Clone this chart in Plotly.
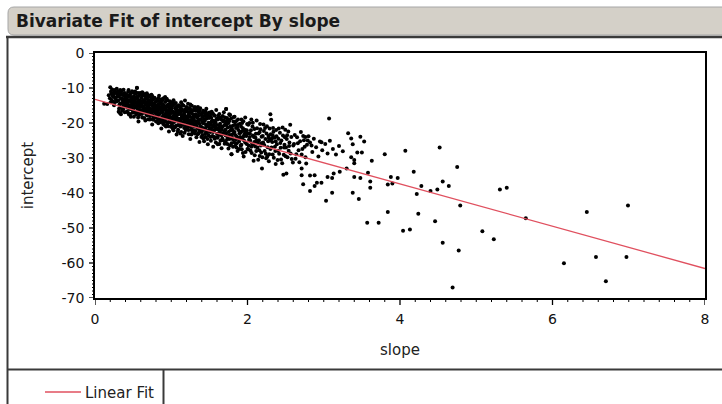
import plotly.graph_objects as go

# ---- data ----
cloud = [
 [0.12,-14.5],[0.16,-14.6],[0.18,-12.1],[0.2,-9.8],[0.21,-11.0],[0.22,-13.4],[0.23,-12.3],[0.24,-11.9],[0.25,-14.9],[0.26,-10.6],[0.27,-12.7],[0.28,-11.5],[0.29,-13.8],[0.3,-10.9],
 [0.31,-12.4],[0.32,-14.8],[0.32,-11.3],[0.33,-17.2],[0.34,-13.1],[0.34,-15.6],[0.35,-10.8],[0.35,-12.9],[0.36,-14.2],[0.36,-11.9],[0.37,-16.1],[0.37,-13.6],[0.38,-12.2],[0.38,-15.0],[0.39,-11.4],[0.39,-13.9],[0.4,-14.6],[0.4,-12.6],
 [0.41,-11.8],[0.41,-15.3],[0.42,-13.2],[0.42,-16.7],[0.43,-12.5],[0.43,-14.4],[0.44,-10.6],[0.44,-13.8],[0.45,-15.9],[0.45,-12.1],[0.46,-14.9],[0.46,-17.4],[0.47,-13.4],[0.47,-11.5],[0.48,-15.4],[0.48,-14.1],[0.49,-12.8],[0.49,-16.3],[0.5,-13.6],[0.5,-11.2],[0.5,-15.0],[0.47,-18.2],
 [0.51,-12.3],[0.51,-14.7],[0.52,-16.8],[0.52,-13.1],[0.53,-11.6],[0.53,-15.5],[0.54,-14.0],[0.54,-17.6],[0.55,-10.0],[0.55,-12.9],[0.56,-15.9],[0.56,-14.4],[0.57,-19.6],[0.57,-13.5],[0.58,-16.3],[0.58,-12.0],[0.59,-14.9],[0.59,-17.1],[0.6,-13.8],[0.6,-15.4],[0.6,-11.4],[0.53,-14.2],[0.57,-15.1],[0.56,-12.5],
 [0.61,-12.8],[0.61,-16.5],[0.62,-14.3],[0.62,-18.4],[0.63,-11.5],[0.63,-15.2],[0.64,-13.6],[0.64,-17.0],[0.65,-15.8],[0.65,-12.2],[0.66,-14.7],[0.66,-19.3],[0.67,-16.2],[0.67,-13.0],[0.68,-11.5],[0.68,-15.5],[0.68,-17.8],[0.69,-14.1],[0.69,-12.6],[0.7,-16.7],[0.7,-15.0],[0.7,-13.4],[0.64,-15.9],[0.66,-16.9],[0.62,-13.9],[0.67,-14.6],
 [0.71,-13.9],[0.71,-17.4],[0.72,-12.4],[0.72,-15.8],[0.73,-18.9],[0.73,-14.6],[0.74,-16.3],[0.74,-11.9],[0.75,-15.1],[0.75,-20.4],[0.76,-13.3],[0.76,-17.9],[0.77,-16.0],[0.77,-14.4],[0.78,-12.8],[0.78,-18.5],[0.79,-15.6],[0.79,-16.9],[0.8,-13.8],[0.8,-17.2],[0.72,-16.6],[0.74,-14.0],[0.76,-15.4],[0.78,-16.5],[0.8,-19.6],[0.75,-12.3],
 [0.81,-15.1],[0.81,-18.4],[0.82,-13.3],[0.82,-16.6],[0.83,-20.1],[0.83,-14.7],[0.84,-17.6],[0.84,-12.2],[0.85,-16.0],[0.85,-19.0],[0.86,-14.2],[0.86,-17.1],[0.87,-15.5],[0.87,-21.6],[0.88,-13.6],[0.88,-18.3],[0.89,-16.4],[0.89,-14.9],[0.9,-17.8],[0.9,-12.9],[0.82,-17.9],[0.84,-15.3],[0.86,-19.8],[0.88,-16.9],[0.9,-15.6],[0.85,-13.9],
 [0.91,-16.2],[0.91,-19.5],[0.92,-14.0],[0.92,-17.5],[0.93,-21.0],[0.93,-15.3],[0.94,-18.6],[0.94,-13.1],[0.95,-16.8],[0.95,-20.2],[0.96,-14.7],[0.96,-18.0],[0.97,-16.0],[0.97,-22.4],[0.98,-13.8],[0.98,-19.1],[0.99,-17.2],[0.99,-15.6],[1.0,-18.4],[1.0,-14.4],[0.92,-12.6],[0.94,-16.5],[0.96,-20.9],[0.98,-17.7],[1.0,-16.3],[0.95,-15.0],
 [1.01,-16.9],[1.01,-20.3],[1.02,-15.0],[1.02,-18.6],[1.03,-22.1],[1.03,-13.5],[1.04,-17.3],[1.04,-19.7],[1.05,-15.8],[1.05,-21.2],[1.06,-18.0],[1.06,-14.3],[1.07,-16.4],[1.07,-23.3],[1.08,-19.2],[1.08,-17.6],[1.09,-15.3],[1.09,-20.6],[1.1,-18.8],[1.1,-14.9],[1.03,-17.9],[1.05,-19.0],[1.07,-16.0],[1.09,-21.9],
 [1.11,-17.4],[1.11,-20.8],[1.12,-15.5],[1.12,-19.2],[1.13,-22.6],[1.13,-14.1],[1.14,-18.0],[1.14,-20.1],[1.15,-16.5],[1.15,-23.7],[1.16,-18.7],[1.16,-15.0],[1.17,-17.1],[1.17,-21.4],[1.18,-19.6],[1.18,-13.6],[1.19,-16.0],[1.19,-22.0],[1.2,-18.3],[1.2,-20.5],[1.12,-17.0],[1.14,-16.1],[1.16,-19.9],[1.18,-17.9],
 [1.21,-16.8],[1.21,-21.3],[1.22,-18.9],[1.22,-14.5],[1.23,-23.2],[1.23,-17.5],[1.24,-20.4],[1.24,-15.7],[1.25,-19.3],[1.25,-24.6],[1.26,-17.0],[1.26,-21.9],[1.27,-18.4],[1.27,-15.1],[1.28,-20.0],[1.28,-22.7],[1.29,-16.4],[1.29,-19.0],[1.3,-17.9],[1.3,-21.0],[1.24,-18.1],[1.27,-19.8],
 [1.31,-15.5],[1.31,-19.4],[1.32,-22.3],[1.32,-17.6],[1.33,-20.8],[1.33,-24.1],[1.34,-18.5],[1.34,-16.2],[1.35,-21.6],[1.35,-19.8],[1.36,-23.0],[1.36,-17.0],[1.37,-20.3],[1.37,-25.4],[1.38,-18.9],[1.38,-15.8],[1.39,-22.0],[1.39,-19.1],[1.4,-21.2],[1.4,-17.4],
 [1.41,-18.3],[1.41,-23.5],[1.42,-20.1],[1.42,-16.5],[1.43,-22.0],[1.43,-25.2],[1.44,-19.4],[1.44,-17.2],[1.45,-21.4],[1.45,-24.0],[1.46,-18.8],[1.46,-15.9],[1.47,-20.7],[1.47,-22.8],[1.48,-17.8],[1.48,-26.1],[1.49,-19.9],[1.5,-21.9],
 [1.51,-18.0],[1.51,-22.6],[1.52,-20.4],[1.52,-25.1],[1.53,-16.8],[1.53,-21.5],[1.54,-23.7],[1.54,-19.3],[1.55,-26.8],[1.55,-20.9],[1.56,-17.7],[1.56,-22.2],[1.57,-24.5],[1.58,-19.8],[1.58,-21.0],[1.59,-16.3],[1.6,-23.1],
 [1.61,-19.0],[1.61,-24.2],[1.62,-21.6],[1.63,-17.4],[1.63,-26.0],[1.64,-22.7],[1.64,-20.2],[1.65,-18.4],[1.66,-23.5],[1.66,-27.2],[1.67,-21.1],[1.68,-19.6],[1.68,-24.9],[1.69,-16.9],[1.7,-22.4],
 [1.71,-20.3],[1.71,-25.4],[1.72,-16.0],[1.72,-22.9],[1.73,-18.6],[1.74,-24.0],[1.74,-21.3],[1.75,-27.3],[1.76,-19.4],[1.76,-23.4],[1.77,-17.7],[1.78,-22.1],[1.79,-28.9],[1.79,-25.8],
 [1.81,-20.8],[1.81,-24.7],[1.82,-18.3],[1.83,-22.6],[1.84,-26.5],[1.85,-21.4],[1.85,-19.5],[1.86,-23.9],[1.87,-28.0],[1.88,-22.0],[1.89,-25.3],[1.9,-20.2],
 [1.91,-22.8],[1.92,-19.0],[1.92,-26.2],[1.93,-24.4],[1.94,-21.5],[1.95,-29.6],[1.96,-23.3],[1.97,-18.4],[1.97,-25.6],[1.99,-22.1],[2.0,-27.4],
 [2.01,-20.5],[2.02,-24.8],[2.03,-22.9],[2.04,-27.9],[2.05,-19.0],[2.06,-25.9],[2.07,-23.6],[2.08,-30.8],[2.09,-21.7],[2.1,-26.7],
 [2.11,-23.1],[2.12,-19.3],[2.13,-27.0],[2.15,-24.9],[2.16,-29.4],[2.17,-21.8],[2.18,-25.8],[2.19,-33.0],[2.2,-23.7],
 [2.21,-20.4],[2.22,-26.3],[2.24,-28.8],[2.25,-23.0],[2.27,-25.2],[2.28,-30.9],[2.29,-21.6],[2.3,-17.5],[2.3,-27.4],
 [2.31,-19.1],[2.32,-24.4],[2.33,-29.0],[2.34,-22.5],[2.36,-26.8],[2.37,-31.7],[2.38,-23.8],[2.4,-27.9],
 [2.41,-21.6],[2.43,-25.7],[2.44,-30.4],[2.46,-21.3],[2.47,-34.8],[2.48,-27.0],[2.49,-24.1],[2.5,-29.5],
 [2.51,-34.4],[2.52,-23.5],[2.54,-27.9],[2.55,-25.6],[2.56,-20.5],[2.58,-30.3],[2.6,-26.4],
 [2.62,-23.4],[2.64,-28.9],[2.66,-25.8],[2.68,-31.2],[2.7,-22.6],[2.72,-27.4],[2.74,-24.9],[2.76,-29.8],[2.78,-26.2],[2.8,-23.8],
 [2.82,-25.6],[2.85,-28.3],[2.87,-24.5],[2.9,-26.9],[2.93,-29.6],[2.95,-25.3],[2.98,-27.8],[3.02,-26.0],[3.05,-28.7],[3.08,-25.1],[3.12,-27.4],[3.16,-29.0],[3.2,-26.6],[3.25,-28.1],[2.76,-24.0],[2.84,-26.4],
]

cloud_fill = [
 [0.195,-12.9],[0.205,-14.1],[0.215,-11.6],[0.225,-10.4],[0.235,-13.9],[0.245,-12.6],[0.255,-11.2],[0.265,-14.0],[0.275,-13.3],[0.285,-10.2],[0.295,-12.0],
 [0.305,-13.6],[0.315,-15.9],[0.325,-12.0],[0.335,-14.4],[0.345,-11.6],[0.355,-16.5],[0.365,-13.3],[0.375,-10.5],[0.385,-14.7],[0.395,-12.9],[0.31,-16.8],[0.33,-10.6],[0.37,-15.3],[0.39,-16.9],
 [0.405,-14.0],[0.415,-12.4],[0.425,-15.6],[0.435,-11.1],[0.445,-17.6],[0.455,-13.5],[0.465,-16.0],[0.475,-12.7],[0.485,-10.9],[0.495,-17.1],[0.42,-14.9],[0.44,-15.2],[0.46,-12.3],[0.48,-13.0],[0.43,-17.0],[0.49,-14.4],
 [0.505,-16.2],[0.515,-13.6],[0.525,-11.0],[0.535,-17.0],[0.545,-12.6],[0.555,-15.0],[0.565,-18.4],[0.575,-11.4],[0.585,-14.1],[0.595,-16.4],[0.51,-18.2],[0.53,-13.0],[0.55,-16.9],[0.57,-12.3],[0.59,-13.5],[0.52,-15.2],[0.54,-11.3],[0.58,-17.7],
 [0.605,-14.4],[0.615,-17.4],[0.625,-12.0],[0.635,-16.2],[0.645,-18.6],[0.655,-13.2],[0.665,-11.8],[0.675,-17.5],[0.685,-14.0],[0.695,-18.9],[0.61,-15.3],[0.63,-13.7],[0.65,-16.7],[0.67,-12.4],[0.69,-16.0],[0.62,-11.2],[0.66,-14.2],[0.7,-12.1],
 [0.705,-14.9],[0.715,-19.0],[0.725,-13.5],[0.735,-17.1],[0.745,-12.9],[0.755,-16.7],[0.765,-19.1],[0.775,-13.0],[0.785,-15.0],[0.795,-18.1],[0.71,-15.9],[0.73,-12.3],[0.75,-17.6],[0.77,-18.4],[0.79,-14.1],[0.72,-18.0],[0.76,-14.7],[0.8,-15.5],
 [0.805,-16.3],[0.815,-13.7],[0.825,-19.2],[0.835,-15.8],[0.845,-18.7],[0.855,-14.5],[0.865,-16.3],[0.875,-19.4],[0.885,-14.6],[0.895,-20.3],[0.81,-17.0],[0.83,-12.9],[0.85,-17.3],[0.87,-13.2],[0.89,-18.9],[0.82,-15.6],[0.86,-15.6],[0.9,-19.6],
 [0.905,-15.0],[0.915,-18.3],[0.925,-16.1],[0.935,-13.6],[0.945,-19.8],[0.955,-17.9],[0.965,-15.4],[0.975,-19.7],[0.985,-14.8],[0.995,-21.1],[0.91,-20.6],[0.93,-17.2],[0.95,-13.5],[0.97,-18.8],[0.99,-16.6],[0.92,-19.0],[0.96,-16.9],[1.0,-20.0],
 [1.005,-15.6],[1.015,-19.0],[1.025,-16.8],[1.035,-21.0],[1.045,-14.6],[1.055,-18.5],[1.065,-20.8],[1.075,-15.2],[1.085,-22.5],[1.095,-17.0],[1.01,-14.1],[1.03,-19.6],[1.05,-16.9],[1.07,-18.3],[1.09,-19.4],[1.02,-21.6],[1.06,-15.6],[1.1,-16.5],
 [1.105,-19.5],[1.115,-16.3],[1.125,-21.0],[1.135,-18.5],[1.145,-14.8],[1.155,-20.5],[1.165,-17.6],[1.175,-22.8],[1.185,-16.6],[1.195,-19.0],[1.11,-15.2],[1.13,-20.0],[1.15,-17.8],[1.17,-19.2],[1.19,-21.1],[1.12,-23.0],[1.16,-16.4],[1.2,-15.4],
 [1.205,-19.4],[1.215,-15.8],[1.225,-22.0],[1.235,-17.0],[1.245,-21.0],[1.255,-16.2],[1.265,-23.3],[1.275,-20.6],[1.285,-17.5],[1.295,-22.2],[1.21,-18.2],[1.23,-19.9],[1.25,-14.7],[1.27,-21.7],[1.29,-20.3],[1.22,-16.0],[1.26,-19.2],[1.3,-15.9],
 [1.305,-18.3],[1.315,-21.1],[1.325,-16.5],[1.335,-19.6],[1.345,-23.2],[1.355,-17.9],[1.365,-21.5],[1.375,-16.6],[1.385,-20.9],[1.395,-24.0],[1.31,-23.0],[1.33,-18.1],[1.35,-15.4],[1.37,-22.4],[1.39,-17.7],[1.32,-20.3],[1.36,-19.2],[1.4,-22.6],
 [1.405,-19.7],[1.415,-16.9],[1.425,-21.6],[1.435,-18.0],[1.445,-23.1],[1.455,-20.5],[1.465,-17.3],[1.475,-24.6],[1.485,-20.9],[1.495,-18.6],[1.41,-21.5],[1.43,-19.0],[1.45,-16.7],[1.47,-18.2],[1.49,-23.6],[1.42,-24.4],[1.46,-22.1],[1.5,-17.0],
 [1.505,-20.1],[1.515,-24.0],[1.525,-18.5],[1.535,-22.4],[1.545,-17.3],[1.555,-23.9],[1.565,-19.4],[1.575,-21.8],[1.585,-25.6],[1.595,-18.8],[1.51,-21.4],[1.53,-19.6],[1.55,-22.6],[1.57,-17.9],[1.59,-24.1],[1.52,-17.2],[1.56,-20.3],[1.6,-20.6],
 [1.605,-21.8],[1.615,-17.9],[1.625,-23.4],[1.635,-20.8],[1.645,-25.1],[1.655,-19.0],[1.665,-22.0],[1.675,-18.0],[1.685,-23.0],[1.695,-20.7],[1.61,-26.1],[1.63,-22.1],[1.65,-20.9],[1.67,-24.4],[1.69,-19.2],[1.62,-18.7],[1.66,-21.4],[1.7,-25.9],
 [1.705,-18.4],[1.715,-23.6],[1.725,-20.4],[1.735,-26.0],[1.745,-19.0],[1.755,-22.5],[1.765,-24.6],[1.775,-20.9],[1.785,-18.7],[1.795,-23.3],[1.71,-21.9],[1.73,-24.8],[1.75,-20.0],[1.77,-26.4],[1.79,-21.5],[1.72,-19.6],[1.76,-17.5],[1.8,-24.2],
 [1.805,-22.0],[1.815,-19.6],[1.825,-25.5],[1.835,-20.5],[1.845,-23.5],[1.855,-27.0],[1.865,-21.2],[1.875,-19.0],[1.885,-24.3],[1.895,-22.9],[1.81,-26.8],[1.83,-18.2],[1.85,-24.7],[1.87,-20.6],[1.89,-27.4],[1.82,-23.0],[1.86,-25.8],[1.9,-22.5],
 [1.905,-24.0],[1.915,-21.0],[1.925,-27.5],[1.935,-22.3],[1.945,-19.5],[1.955,-25.0],[1.965,-21.9],[1.975,-28.3],[1.985,-23.7],[1.995,-20.3],[1.91,-26.5],[1.93,-20.0],[1.95,-23.8],[1.97,-22.6],[1.99,-26.0],[1.94,-28.6],
 [2.005,-23.0],[2.015,-26.4],[2.025,-20.0],[2.035,-25.0],[2.045,-22.1],[2.055,-28.6],[2.065,-21.0],[2.075,-26.1],[2.085,-24.0],[2.095,-29.2],[2.01,-27.5],[2.03,-24.0],[2.05,-26.8],[2.07,-19.9],[2.09,-25.4],
 [2.105,-24.2],[2.115,-28.0],[2.125,-21.5],[2.135,-25.6],[2.145,-23.0],[2.155,-27.8],[2.165,-20.3],[2.175,-26.4],[2.185,-23.9],[2.195,-29.8],[2.12,-25.0],[2.14,-30.5],[2.16,-22.6],[2.18,-28.4],
 [2.205,-25.6],[2.215,-22.3],[2.225,-28.0],[2.235,-24.6],[2.245,-30.1],[2.255,-20.9],[2.265,-26.9],[2.275,-23.7],[2.285,-28.9],[2.295,-25.0],[2.23,-21.4],[2.26,-29.6],[2.28,-24.3],
 [2.305,-23.2],[2.315,-27.0],[2.325,-25.4],[2.335,-21.4],[2.345,-29.9],[2.355,-24.2],[2.365,-28.0],[2.375,-22.0],[2.385,-26.1],[2.395,-30.6],[2.33,-23.5],[2.37,-25.3],
 [2.405,-24.5],[2.415,-28.8],[2.425,-22.8],[2.435,-27.1],[2.445,-25.0],[2.455,-31.5],[2.465,-23.6],[2.475,-29.1],[2.485,-26.2],[2.495,-21.9],
 [2.505,-27.0],[2.515,-24.6],[2.525,-29.8],[2.535,-22.4],[2.545,-26.6],[2.565,-28.7],[2.575,-24.0],[2.595,-31.3],
 [2.61,-26.0],[2.63,-30.2],[2.65,-24.1],[2.67,-27.8],[2.69,-25.2],[2.71,-29.0],[2.73,-23.7],[2.75,-26.8],[2.77,-31.6],[2.79,-25.0],
]

outliers = [
 [3.07,-18.7],[3.32,-22.9],[3.36,-24.4],[3.48,-23.9],[3.53,-25.3],[3.38,-26.1],[3.44,-28.4],[3.50,-28.4],
 [3.40,-30.6],[3.40,-31.5],[3.36,-29.8],[3.63,-30.8],[3.80,-28.9],[4.07,-27.9],[4.52,-27.0],[3.58,-34.2],
 [3.40,-35.4],[3.48,-35.7],[3.61,-36.7],[3.61,-38.5],[3.88,-35.4],[3.97,-35.7],[3.90,-37.3],[3.84,-37.6],
 [4.18,-33.9],[4.28,-38.0],[4.22,-40.3],[4.40,-39.4],[4.49,-39.0],[4.56,-36.7],[4.64,-38.0],[4.75,-32.6],
 [4.79,-43.6],[5.31,-39.0],[5.40,-38.5],[3.84,-45.4],[4.24,-45.9],[3.57,-48.5],[3.72,-48.5],[4.04,-50.8],
 [4.13,-50.4],[4.46,-48.1],[4.56,-54.2],[4.77,-56.4],[5.08,-50.9],[5.23,-53.2],[4.69,-67.0],[3.46,-41.7],
 [3.38,-39.9],[3.11,-39.9],[3.03,-42.2],[2.82,-39.4],[2.73,-37.5],[2.88,-38.0],[2.91,-37.1],[2.97,-37.1],
 [2.71,-34.9],[2.82,-35.0],[2.88,-34.9],[3.05,-35.4],[3.11,-35.7],[3.13,-34.4],[3.21,-33.9],[3.30,-33.0],
 [2.71,-33.0],[5.65,-47.2],[6.45,-45.4],[6.99,-43.6],[6.15,-60.1],[6.57,-58.3],[6.97,-58.3],[6.70,-65.2],
 [1.72,-16.0],[1.31,-15.5],[1.77,-17.7],[0.34,-17.5],[1.79,-28.9],[0.55,-9.9],[2.97,-25.5],
]

all_points = cloud + cloud_fill + outliers
slope = [p[0] for p in all_points]
intercept = [p[1] for p in all_points]

fit_a = -13.25   # fitted intercept
fit_b = -6.04    # fitted slope
fit_x = [0, 8]
fit_y = [fit_a + fit_b * v for v in fit_x]

x_ticks = [0, 2, 4, 6, 8]
y_ticks = [0, -10, -20, -30, -40, -50, -60, -70]
x_minor = [round(i * 0.2, 1) for i in range(41) if i % 10 != 0]
y_minor = [v for v in range(-70, 1) if v % 10 != 0]

# ---- layout geometry (pixels) ----
W, H = 722, 404
L, R, T, B = 95, 17, 53, 106
PW, PH = W - L - R, H - T - B

def X(px):
    return (px - L) / PW

def Y(py):
    return (H - B - py) / PH

FONT = "DejaVu Sans, Verdana, sans-serif"
FIT_COLOR = "#e0505f"

fig = go.Figure()
fig.add_trace(go.Scatter(
    x=slope, y=intercept, mode="markers",
    marker=dict(color="black", size=4, line=dict(width=0)),
    showlegend=False, hoverinfo="x+y"))
fig.add_trace(go.Scatter(
    x=fit_x, y=fit_y, mode="lines", name="Linear Fit",
    line=dict(color=FIT_COLOR, width=1.3), showlegend=False))

shapes = []
# title bar (rounded left end)
x0, x1, y0, y1 = X(8), X(740), Y(7), Y(35)
r, ry = 6 / PW, 6 / PH
shapes.append(dict(
    type="path", xref="paper", yref="paper",
    path=(f"M {x1},{y0} L {x0 + r},{y0} Q {x0},{y0} {x0},{y0 - ry} "
          f"L {x0},{y1 + ry} Q {x0},{y1} {x0 + r},{y1} L {x1},{y1} Z"),
    fillcolor="#d4d0c8", line=dict(color="#a6a6a6", width=1), layer="below"))
frame = dict(color="#3a3a3a", width=2)
shapes.append(dict(type="line", xref="paper", yref="paper",
                   x0=X(6), x1=X(730), y0=Y(37), y1=Y(37), line=dict(color="#3a3a3a", width=2.5)))
shapes.append(dict(type="line", xref="paper", yref="paper",
                   x0=X(7.5), x1=X(7.5), y0=Y(37), y1=Y(410), line=frame))
shapes.append(dict(type="line", xref="paper", yref="paper",
                   x0=X(7), x1=X(730), y0=Y(369.5), y1=Y(369.5), line=frame))
shapes.append(dict(type="line", xref="paper", yref="paper",
                   x0=X(163.5), x1=X(163.5), y0=Y(369.5), y1=Y(410), line=frame))
# legend key
shapes.append(dict(type="line", xref="paper", yref="paper",
                   x0=X(45), x1=X(81), y0=Y(392), y1=Y(392),
                   line=dict(color=FIT_COLOR, width=1.5)))

# axis tick marks, positioned by the axes' own scales
def xtick(v, length, width):
    return dict(type="line", xref="x", x0=v, x1=v,
                yref="paper", ysizemode="pixel", yanchor=0, y0=0, y1=-length,
                line=dict(color="black", width=width))

def ytick(v, length, width):
    return dict(type="line", yref="y", y0=v, y1=v,
                xref="paper", xsizemode="pixel", xanchor=0, x0=0, x1=-length,
                line=dict(color="black", width=width))

shapes += [xtick(v, 7, 1.3) for v in x_ticks]
shapes += [xtick(v, 4, 1) for v in x_minor]
shapes += [ytick(v, 6, 1.3) for v in y_ticks]
shapes += [ytick(v, 3, 1) for v in y_minor]

fig.update_layout(
    width=W, height=H,
    margin=dict(l=L, r=R, t=T, b=B, pad=0),
    paper_bgcolor="white", plot_bgcolor="white",
    font=dict(family=FONT, size=14, color="#111111"),
    shapes=shapes,
    showlegend=False,
    annotations=[
        dict(text="<b>Bivariate Fit of intercept By slope</b>",
             xref="paper", yref="paper", x=X(14), y=Y(21),
             xanchor="left", yanchor="middle", showarrow=False,
             font=dict(family=FONT, size=17, color="#1a1a1a")),
        dict(text="Linear Fit", xref="paper", yref="paper", x=X(83), y=Y(393),
             xanchor="left", yanchor="middle", showarrow=False,
             font=dict(family=FONT, size=15, color="#222222")),
    ],
    xaxis=dict(
        range=[0, 8], tickvals=x_ticks, ticktext=[str(v) for v in x_ticks],
        ticks="outside", ticklen=7, tickwidth=1, tickcolor="rgba(0,0,0,0)",
        showline=True, linecolor="black", linewidth=1.5, mirror=True,
        showgrid=False, zeroline=False,
        tickfont=dict(size=14, color="#111111"),
        title=dict(text="slope", font=dict(size=15, color="#222222"), standoff=19)),
    yaxis=dict(
        range=[-70, 0], tickvals=y_ticks, ticktext=[str(v) for v in y_ticks],
        ticks="outside", ticklen=6, tickwidth=1, tickcolor="rgba(0,0,0,0)",
        showline=True, linecolor="black", linewidth=1.5, mirror=True,
        showgrid=False, zeroline=False,
        tickfont=dict(size=14, color="#111111"),
        title=dict(text="intercept", font=dict(size=15, color="#222222"), standoff=24)),
)

fig.write_html("out.html")
